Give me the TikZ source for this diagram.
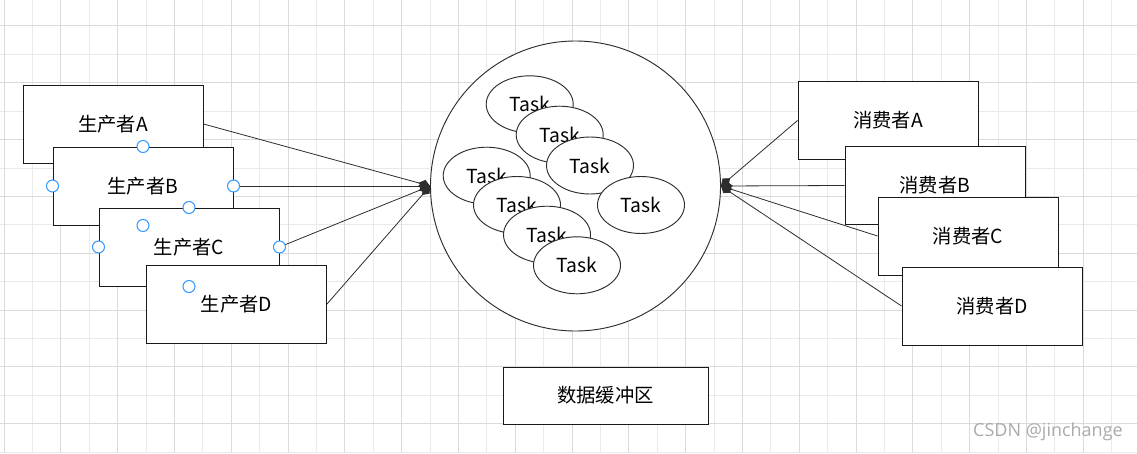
\documentclass[tikz,border=0pt]{standalone}
\usepackage{fontspec}
\newfontfamily\cjk{Noto Sans CJK SC}
\newfontfamily\markfont{Open Sans}
\usetikzlibrary{arrows.meta,shapes.geometric}
\definecolor{GridMajor}{RGB}{218,218,218}
\definecolor{GridMinor}{RGB}{234,234,234}
\definecolor{HandleBlue}{RGB}{51,153,255}
\definecolor{EdgeGray}{RGB}{45,45,45}
\definecolor{MarkGray}{RGB}{170,170,170}
\tikzset{
  rolebox/.style={draw=black!90,fill=white,line width=0.75pt,minimum width=135pt,minimum height=58.5pt,inner sep=0pt,font=\cjk\fontsize{14.5}{17}\selectfont},
  taskell/.style={ellipse,draw=EdgeGray,fill=white,line width=0.7pt,minimum width=65.25pt,minimum height=42.75pt,inner sep=0pt,font=\cjk\fontsize{14.5}{17}\selectfont},
  link/.style={draw=EdgeGray,line width=0.6pt,-{Diamond[length=9pt,width=7pt]}},
  handle/.style={draw=HandleBlue,fill=white,line width=0.8pt},
}

\begin{document}
\begin{tikzpicture}[x=0.75pt,y=-0.75pt]
  \useasboundingbox[fill=white] (0,0) rectangle (1137,453);
  % grid
  \foreach \k in {1,3,...,39} \draw[GridMinor,line width=0.75pt] ({4+28.4*\k},0) -- ++(0,453);
  \foreach \k in {1,3,...,15} \draw[GridMinor,line width=0.75pt] (0,{26+28.4*\k}) -- ++(1137,0);
  \foreach \k in {0,2,...,40} \draw[GridMajor,line width=0.75pt] ({4+28.4*\k},0) -- ++(0,453);
  \foreach \k in {0,2,...,14} \draw[GridMajor,line width=0.75pt] (0,{26+28.4*\k}) -- ++(1137,0);

  % buffer with tasks
  \node[circle,draw=EdgeGray,fill=white,line width=0.7pt,minimum size=217.5pt,inner sep=0pt] (buf) at (575.5,186) {};
  \node[taskell] (t1) at (529.7,104.3) {Task};
  \node[taskell] (t2) at (559.7,134.7) {Task};
  \node[taskell] (t3) at (590,165.5) {Task};
  \node[taskell] (t4) at (486.7,175.7) {Task};
  \node[taskell] (t5) at (517,205) {Task};
  \node[taskell] (t6) at (547,234.7) {Task};
  \node[taskell] (t7) at (577,265.3) {Task};
  \node[taskell] (t8) at (641,205) {Task};
  \node[rolebox,minimum width=153.75pt,minimum height=42.75pt] (buflabel) at (605.5,395.5) {数据缓冲区};

  % producers
  \node[rolebox] (pa) at (113,124) {生产者A};
  \node[rolebox] (pb) at (143,186) {生产者B};
  \node[rolebox] (pc) at (189,247) {生产者C};
  \node[rolebox] (pd) at (236.5,304) {生产者D};
  \draw[link] (pa.east) -- (buf.west);
  \draw[link] (pb.east) -- (buf.west);
  \draw[link] (pc.east) -- (buf.west);
  \draw[link] (pd.east) -- (buf.west);
  \foreach \n in {pb,pc}
    \foreach \a in {north,south,west,east}
      \draw[handle] (\n.\a) circle[radius=4.5pt];

  % consumers
  \node[rolebox] (ca) at (888,120.5) {消费者A};
  \node[rolebox] (cb) at (935,185.5) {消费者B};
  \node[rolebox] (cc) at (968,236) {消费者C};
  \node[rolebox] (cd) at (992,306) {消费者D};
  \draw[link] (ca.west) -- (buf.east);
  \draw[link] (cb.west) -- (buf.east);
  \draw[link] (cc.west) -- (buf.east);
  \draw[link] (cd.west) -- (buf.east);

  \node[anchor=east,inner sep=0pt,text=MarkGray,font=\markfont\fontsize{13.5}{15}\selectfont] (mark) at (1123,432) {CSDN @jinchange};
\end{tikzpicture}
\end{document}
